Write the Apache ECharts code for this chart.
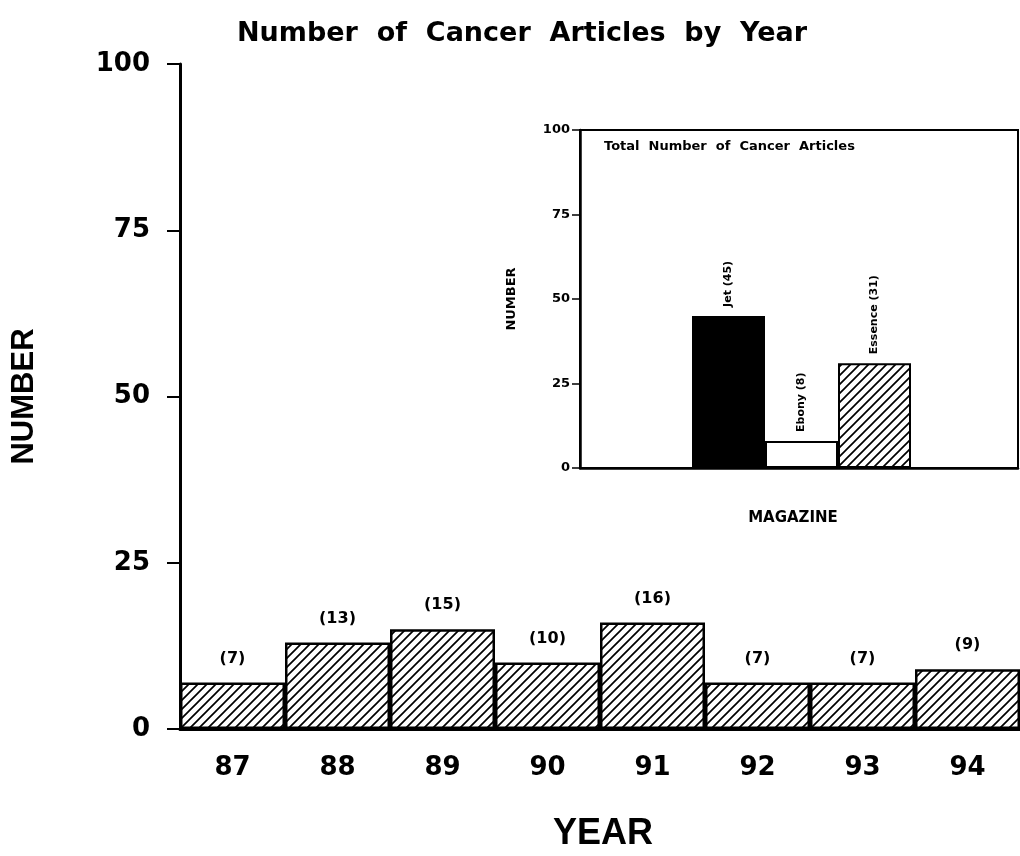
<!DOCTYPE html>
<html>
<head>
<meta charset="utf-8">
<script src="https://cdn.jsdelivr.net/npm/echarts@6/dist/echarts.min.js"></script>
<style>
  html, body { margin: 0; padding: 0; background: #fff; }
  #chart { width: 1020px; height: 856px; }
</style>
</head>
<body>
<div id="chart"></div>
<script>
// main chart data
const years = ["87", "88", "89", "90", "91", "92", "93", "94"];
const articlesByYear = [7, 13, 15, 10, 16, 7, 7, 9];
const yTicks = [0, 25, 50, 75, 100];

// inset data
const magazines = ["Jet", "Ebony", "Essence"];
const articlesByMagazine = [45, 8, 31];

const SANS = "Liberation Sans";
const WIDE = "DejaVu Sans";

// diagonal hatch fill ("/" lines)
function makeHatch(size, lw) {
  const c = document.createElement("canvas");
  c.width = size;
  c.height = size;
  const ctx = c.getContext("2d");
  ctx.fillStyle = "#fff";
  ctx.fillRect(0, 0, size, size);
  ctx.strokeStyle = "#000";
  ctx.lineWidth = lw;
  ctx.beginPath();
  ctx.moveTo(0, size); ctx.lineTo(size, 0);
  ctx.moveTo(-1, 1); ctx.lineTo(1, -1);
  ctx.moveTo(size - 1, size + 1); ctx.lineTo(size + 1, size - 1);
  ctx.stroke();
  return c;
}
const hatch = { image: makeHatch(9, 1.7), repeat: "repeat" };

const chart = echarts.init(document.getElementById("chart"));

const insetFills = ["#000", "#fff", hatch];

const option = {
  backgroundColor: "#fff",
  animation: false,
  title: {
    text: "Number  of  Cancer  Articles  by  Year",
    left: 517,
    top: 15,
    textAlign: "center",
    textStyle: { fontFamily: WIDE, fontSize: 27, fontWeight: "bold", color: "#000" }
  },
  grid: [
    { left: 180, top: 64, width: 840, height: 665 },
    { left: 580, top: 130, width: 438, height: 338, show: true, borderColor: "#000", borderWidth: 2, backgroundColor: "transparent" },
    { left: 692, top: 130, width: 219, height: 338 }
  ],
  xAxis: [
    {
      gridIndex: 0,
      type: "category",
      data: years,
      axisLine: { lineStyle: { color: "#000", width: 3 } },
      axisTick: { show: false },
      axisLabel: { color: "#000", fontFamily: WIDE, fontSize: 26, fontWeight: "bold", margin: 26 }
    },
    {
      gridIndex: 1,
      type: "category",
      data: [""],
      axisLine: { lineStyle: { color: "#000", width: 2.5 } },
      axisTick: { show: false },
      axisLabel: { show: false }
    },
    {
      gridIndex: 2,
      type: "category",
      data: magazines,
      show: false
    }
  ],
  yAxis: [
    {
      gridIndex: 0,
      type: "value",
      min: yTicks[0],
      max: yTicks[yTicks.length - 1],
      interval: 25,
      name: "NUMBER",
      nameLocation: "middle",
      nameRotate: 90,
      nameGap: 140,
      nameTextStyle: { fontFamily: SANS, fontSize: 31, fontWeight: "bold", color: "#000" },
      axisLine: { show: true, lineStyle: { color: "#000", width: 3 } },
      axisTick: { show: true, length: 13, lineStyle: { color: "#000", width: 2 } },
      axisLabel: { color: "#000", fontFamily: WIDE, fontSize: 26, fontWeight: "bold", margin: 30 },
      splitLine: { show: false }
    },
    {
      gridIndex: 1,
      type: "value",
      min: yTicks[0],
      max: yTicks[yTicks.length - 1],
      interval: 25,
      name: "NUMBER",
      nameLocation: "middle",
      nameRotate: 90,
      nameGap: 62,
      nameTextStyle: { fontFamily: WIDE, fontSize: 13, fontWeight: "bold", color: "#000" },
      axisLine: { show: true, lineStyle: { color: "#000", width: 2.5 } },
      axisTick: { show: true, length: 8, lineStyle: { color: "#000", width: 1.5 } },
      axisLabel: { color: "#000", fontFamily: WIDE, fontSize: 13, fontWeight: "bold", margin: 10 },
      splitLine: { show: false }
    },
    {
      gridIndex: 2,
      type: "value",
      min: yTicks[0],
      max: yTicks[yTicks.length - 1],
      show: false,
      splitLine: { show: false }
    }
  ],
  graphic: [
    {
      type: "text",
      x: 603,
      y: 834,
      style: { text: "YEAR", fontFamily: SANS, fontSize: 36, fontWeight: "bold", fill: "#000", align: "center", verticalAlign: "middle" }
    },
    {
      type: "text",
      x: 793,
      y: 518,
      style: { text: "MAGAZINE", fontFamily: WIDE, fontSize: 15, fontWeight: "bold", fill: "#000", align: "center", verticalAlign: "middle" }
    },
    {
      type: "text",
      x: 604,
      y: 147,
      style: { text: "Total  Number  of  Cancer  Articles", fontFamily: WIDE, fontSize: 13, fontWeight: "bold", fill: "#000", align: "left", verticalAlign: "middle" }
    }
  ],
  series: [
    {
      type: "bar",
      xAxisIndex: 0,
      yAxisIndex: 0,
      data: articlesByYear,
      barWidth: "100%",
      itemStyle: { color: hatch, borderColor: "#000", borderWidth: 2.5 },
      label: {
        show: true,
        position: "top",
        distance: 16,
        formatter: "({c})",
        fontFamily: WIDE,
        fontSize: 16,
        fontWeight: "bold",
        color: "#000"
      }
    },
    {
      type: "bar",
      xAxisIndex: 2,
      yAxisIndex: 2,
      barWidth: "100%",
      data: articlesByMagazine.map((v, i) => ({
        value: v,
        itemStyle: { color: insetFills[i], borderColor: "#000", borderWidth: 2 }
      })),
      label: {
        show: true,
        position: "top",
        rotate: 90,
        align: "left",
        verticalAlign: "middle",
        distance: 9,
        formatter: "{b} ({c})",
        fontFamily: WIDE,
        fontSize: 11,
        fontWeight: "bold",
        color: "#000"
      }
    }
  ]
};

chart.setOption(option);
</script>
</body>
</html>
